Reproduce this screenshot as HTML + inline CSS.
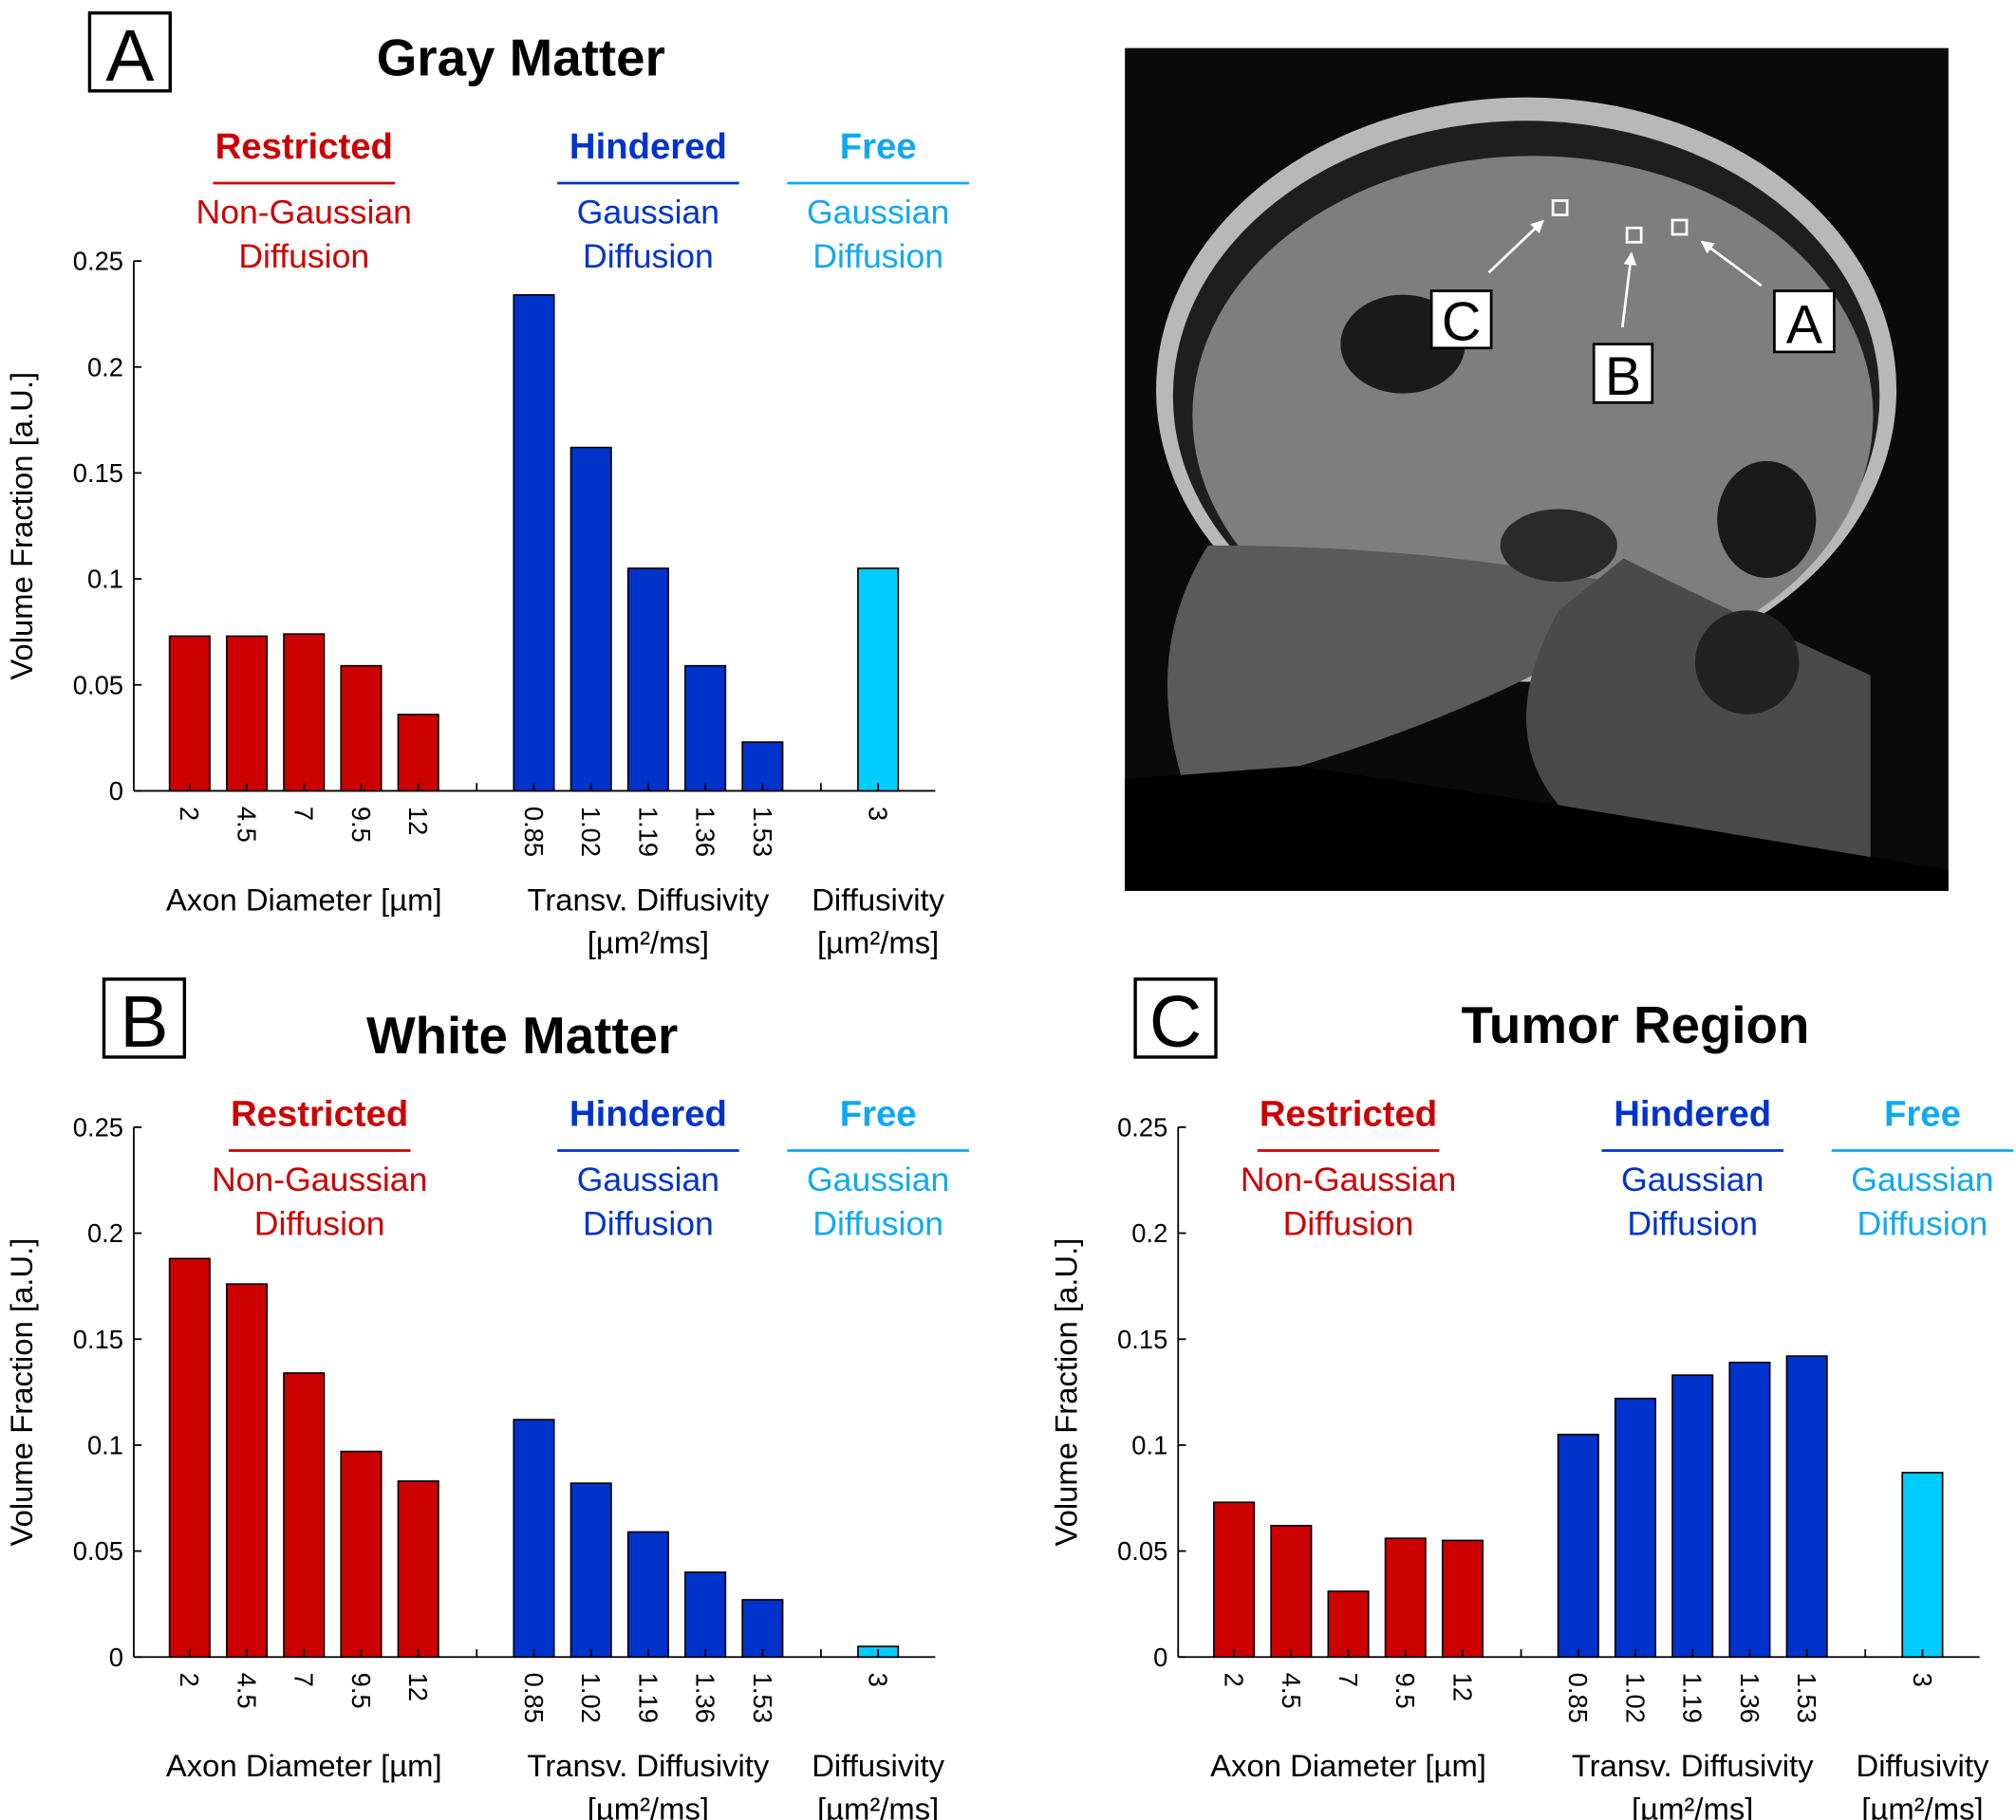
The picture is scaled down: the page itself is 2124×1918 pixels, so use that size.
<!DOCTYPE html>
<html><head><meta charset="utf-8"><style>
html,body{margin:0;padding:0;background:#fff}
svg{display:block}
text{font-family:"Liberation Sans",sans-serif}
</style></head><body>
<svg id="fig" width="2124" height="1918" viewBox="0 0 1552 1401.5" xmlns="http://www.w3.org/2000/svg">
<defs><marker id="ah" viewBox="0 0 10 10" refX="9" refY="5" markerWidth="5" markerHeight="5" orient="auto"><path d="M0,0L10,5L0,10Z" fill="#fff"/></marker></defs>
<g id="mri">
<rect x="866" y="37" width="634" height="649" fill="#0a0a0a"/>
<ellipse cx="1175" cy="300" rx="285" ry="225" fill="#b8b8b8"/>
<ellipse cx="1175" cy="305" rx="272" ry="212" fill="#1e1e1e"/>
<ellipse cx="1180" cy="320" rx="262" ry="200" fill="#7e7e7e"/>
<path d="M930,420 Q880,500 910,600 L1000,590 Q1100,560 1180,520 L1250,450 Q1100,420 930,420Z" fill="#5a5a5a"/>
<path d="M1250,430 Q1330,470 1440,520 L1440,660 L1200,620 Q1150,560 1200,470Z" fill="#4a4a4a"/>
<ellipse cx="1080" cy="265" rx="48" ry="38" fill="#1a1a1a"/>
<ellipse cx="1360" cy="400" rx="38" ry="45" fill="#1a1a1a"/>
<ellipse cx="1345" cy="510" rx="40" ry="40" fill="#222"/>
<ellipse cx="1200" cy="420" rx="45" ry="28" fill="#2a2a2a"/>
<polygon points="866,600 1000,590 1200,620 1440,660 1500,670 1500,686 866,686" fill="#000"/>
<rect x="1195.5" y="154.5" width="11" height="11" fill="none" stroke="#fff" stroke-width="2"/>
<rect x="1252.5" y="175.5" width="11" height="11" fill="none" stroke="#fff" stroke-width="2"/>
<rect x="1287.5" y="169.5" width="11" height="11" fill="none" stroke="#fff" stroke-width="2"/>
<line x1="1146" y1="210" x2="1188" y2="170" stroke="#fff" stroke-width="2" marker-end="url(#ah)"/>
<line x1="1249" y1="252" x2="1256" y2="195" stroke="#fff" stroke-width="2" marker-end="url(#ah)"/>
<line x1="1356" y1="220" x2="1310" y2="186" stroke="#fff" stroke-width="2" marker-end="url(#ah)"/>
<rect x="1102" y="224" width="46" height="44" fill="#fff" stroke="#000" stroke-width="2"/>
<text x="1125" y="262" font-size="42" text-anchor="middle">C</text>
<rect x="1227" y="265" width="45" height="45" fill="#fff" stroke="#000" stroke-width="2"/>
<text x="1249.5" y="304" font-size="42" text-anchor="middle">B</text>
<rect x="1366" y="224" width="46" height="47" fill="#fff" stroke="#000" stroke-width="2"/>
<text x="1389" y="264" font-size="42" text-anchor="middle">A</text>
</g>
</svg>
<script>
const redCats=["2","4.5","7","9.5","12"];
const blueCats=["0.85","1.02","1.19","1.36","1.53"];
const cyanCats=["3"];
const yTicks=[0,0.05,0.1,0.15,0.2,0.25];
const yTickLabels=["0","0.05","0.1","0.15","0.2","0.25"];
const grayRed=[0.073,0.073,0.074,0.059,0.036];
const grayBlue=[0.234,0.162,0.105,0.059,0.023];
const grayCyan=[0.105];
const whiteRed=[0.188,0.176,0.134,0.097,0.083];
const whiteBlue=[0.112,0.082,0.059,0.040,0.027];
const whiteCyan=[0.005];
const tumorRed=[0.073,0.062,0.031,0.056,0.055];
const tumorBlue=[0.105,0.122,0.133,0.139,0.142];
const tumorCyan=[0.087];

const NS="http://www.w3.org/2000/svg";
const svg=document.getElementById('fig');
function el(tag,attrs,parent,txt){const e=document.createElementNS(NS,tag);for(const k in attrs)e.setAttribute(k,attrs[k]);if(txt!==undefined)e.textContent=txt;(parent||svg).appendChild(e);return e;}
const RED="#cc0000",BLUE="#0033cc",CYAN="#00ccff",CYANT="#10a8f0";

function panel(p){
  const g=el('g',{});
  
  
  const ox=p.ox, y0=p.y0, yTop=y0-408;
  const yS=v=>y0-v/0.25*408;
  const lb=el('rect',{x:p.bx,y:p.by,width:62,height:60,fill:'#fff',stroke:'#000','stroke-width':2.5},g);
  
  el('text',{x:p.bx+31,y:p.by+52,'font-size':56,'text-anchor':'middle'},g,p.letter);
  const t=el('text',{x:p.tx,y:p.ty,'font-size':40,'font-weight':'bold','text-anchor':'middle'},g,p.title);
  
  const groups=[[p.rx,"Restricted","Non-Gaussian",RED],[ox+396,"Hindered","Gaussian",BLUE],[ox+573,"Free","Gaussian",CYANT]];
  const hy=p.hy;
  groups.forEach(gr=>{
    const h=el('text',{x:gr[0],y:hy,'font-size':28,'font-weight':'bold','text-anchor':'middle',fill:gr[3]},g,gr[1]);
    
    el('line',{x1:gr[0]-70,x2:gr[0]+70,y1:hy+19,y2:hy+19,stroke:gr[3],'stroke-width':2},g);
    el('text',{x:gr[0],y:hy+50,'font-size':26,'text-anchor':'middle',fill:gr[3]},g,gr[2]);
    el('text',{x:gr[0],y:hy+84,'font-size':26,'text-anchor':'middle',fill:gr[3]},g,"Diffusion");
  });
  const ax=el('line',{x1:ox,x2:ox,y1:yTop,y2:y0,stroke:'#000','stroke-width':1.3},g);
  
  const xa=el('line',{x1:ox,x2:ox+617,y1:y0,y2:y0,stroke:'#000','stroke-width':1.3},g);
  
  yTicks.forEach((v,i)=>{
    el('line',{x1:ox,x2:ox+6,y1:yS(v),y2:yS(v),stroke:'#000','stroke-width':1.3},g);
    const tl=el('text',{x:ox-8,y:yS(v)+7,'font-size':20,'text-anchor':'end'},g,yTickLabels[i]);
    
  });
  const yt=el('text',{transform:`translate(${ox-78},${y0-204}) rotate(-90)`,'font-size':24,'text-anchor':'middle'},g,"Volume Fraction [a.U.]");
  
  function bars(vals,cats,startX,color){
    vals.forEach((v,i)=>{
      const cx=startX+i*44;
      const b=el('rect',{x:cx-15.5,y:yS(v),width:31,height:y0-yS(v),fill:color,stroke:'#000','stroke-width':1.2},g);
      
      el('line',{x1:cx,x2:cx,y1:y0,y2:y0-6,stroke:'#000','stroke-width':1.3},g);
      const tl=el('text',{transform:`translate(${cx-7},${y0+12}) rotate(90)`,'font-size':20},g,cats[i]);
      
    });
  }
  bars(p.red,redCats,ox+43,RED);
  bars(p.blue,blueCats,ox+308,BLUE);
  bars(p.cyan,cyanCats,ox+573,CYAN);
  [ox+264,ox+529].forEach(x=>el('line',{x1:x,x2:x,y1:y0,y2:y0-6,stroke:'#000','stroke-width':1.3},g));
  const ly=y0+92;
  [[ox+131,"Axon Diameter [µm]",null],[ox+396,"Transv. Diffusivity","[µm²/ms]"],[ox+573,"Diffusivity","[µm²/ms]"]].forEach(l=>{
    const a=el('text',{x:l[0],y:ly,'font-size':24,'text-anchor':'middle'},g,l[1]);
    
    if(l[2])el('text',{x:l[0],y:ly+33,'font-size':24,'text-anchor':'middle'},g,l[2]);
  });
}
panel({name:'gray-matter-panel',letter:'A',title:'Gray Matter',ox:103,y0:609,bx:69,by:10,tx:401,ty:58,rx:234,hy:122,red:grayRed,blue:grayBlue,cyan:grayCyan});
panel({name:'white-matter-panel',letter:'B',title:'White Matter',ox:103,y0:1276,bx:80,by:754,tx:402,ty:811,rx:246,hy:867,red:whiteRed,blue:whiteBlue,cyan:whiteCyan});
panel({name:'tumor-region-panel',letter:'C',title:'Tumor Region',ox:907,y0:1276,bx:874,by:754,tx:1259,ty:803,rx:1038,hy:867,red:tumorRed,blue:tumorBlue,cyan:tumorCyan});
</script>
</body></html>
